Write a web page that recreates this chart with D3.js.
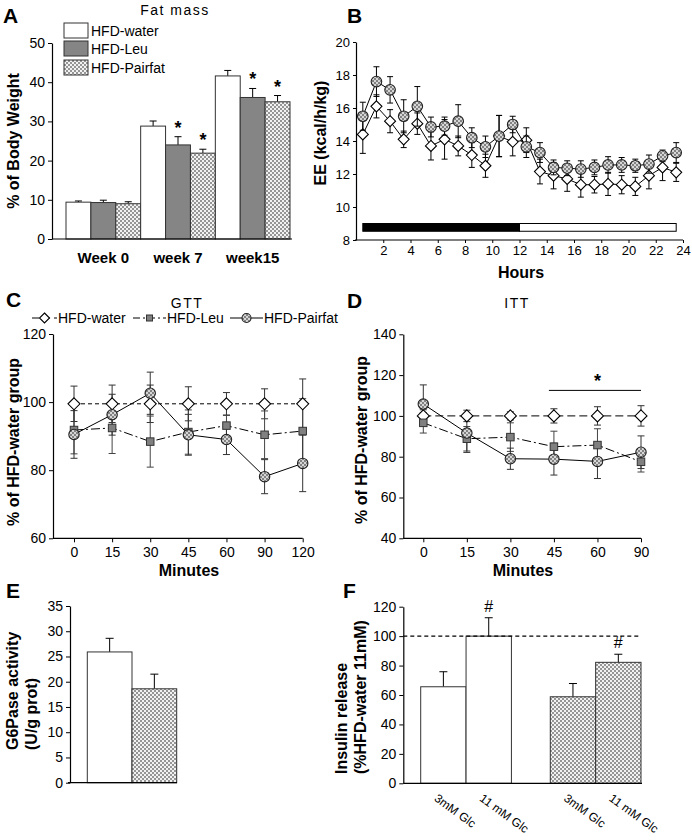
<!DOCTYPE html>
<html><head><meta charset="utf-8">
<script src="https://cdn.jsdelivr.net/npm/d3@7"></script>
<style>
body{margin:0;background:#fff}
svg{display:block}
text{font-family:"Liberation Sans",Arial,sans-serif;fill:#000}
</style>
</head><body>
<svg id="fig" width="692" height="840"></svg>
<script>
// ---------------- DATA ----------------
// Panel A: fat mass
const fatWeeks = ["Week 0", "week 7", "week15"];
const fatSeries = ["HFD-water", "HFD-Leu", "HFD-Pairfat"];
const fatWater = [9.4, 28.8, 41.6];
const fatWaterErr = [0.3, 1.3, 1.4];
const fatLeu = [9.3, 24.0, 36.1];
const fatLeuErr = [0.6, 2.1, 2.3];
const fatPair = [9.0, 21.9, 35.0];
const fatPairErr = [0.5, 1.0, 1.6];
const fatStars = [[1, 1], [1, 2], [2, 1], [2, 2]]; // [week index, series index]
const fatTicks = [0, 10, 20, 30, 40, 50];

// Panel B: energy expenditure
const eeHours = [0.5,1.5,2.5,3.5,4.5,5.5,6.5,7.5,8.5,9.5,10.5,11.5,12.5,13.5,14.5,15.5,16.5,17.5,18.5,19.5,20.5,21.5,22.5,23.5];
const eeCircle = [15.5,17.6,17.1,15.5,16.1,14.85,14.9,15.2,14.2,13.65,14.3,15.0,13.65,13.3,12.4,12.35,12.3,12.4,12.55,12.55,12.5,12.6,13.1,13.3];
const eeCircleErr = [0.85,0.9,0.8,1.0,1.2,0.6,0.55,1.0,0.6,0.65,1.25,0.5,0.65,0.6,0.45,0.45,0.5,0.45,0.5,0.45,0.4,0.55,0.35,0.6];
const eeDiamond = [14.4,16.1,15.2,14.1,15.05,13.7,14.1,13.7,13.15,12.5,14.3,13.95,14.05,12.15,11.9,11.7,11.35,11.35,11.4,11.35,11.25,11.9,12.4,12.1];
const eeDiamondErr = [1.15,0.7,0.7,0.5,0.65,0.85,1.2,0.6,0.75,0.7,1.25,0.85,0.75,0.75,0.8,0.75,0.75,0.5,0.7,0.55,0.55,0.8,0.8,0.55];
const eeYTicks = [8, 10, 12, 14, 16, 18, 20];
const eeXTicks = [2,4,6,8,10,12,14,16,18,20,22,24];
const eePhases = [[0.5, 12, "dark"], [12, 23.5, "light"]];

// Panel C: GTT
const gttMinutes = ["0", "15", "30", "45", "60", "90", "120"];
const gttWater = [99.5, 99.5, 99.5, 99.5, 99.5, 99.5, 99.5];
const gttWaterErr = [5.2, 5.5, 5.5, 5.0, 3.3, 4.4, 7.3];
const gttLeu = [91.8, 92.4, 88.4, 91.2, 93.1, 90.4, 91.5];
const gttLeuErr = [7.0, 7.5, 7.5, 6.5, 3.0, 7.0, 9.5];
const gttPair = [90.5, 96.3, 102.6, 90.4, 89.0, 78.1, 82.0];
const gttPairErr = [7.0, 6.0, 6.2, 6.0, 4.4, 5.0, 8.3];
const gttTicks = [60, 80, 100, 120];

// Panel D: ITT
const ittMinutes = ["0", "15", "30", "45", "60", "90"];
const ittWater = [100, 100, 100, 100, 100, 100];
const ittWaterErr = [3.0, 2.8, 2.0, 3.5, 4.5, 5.0];
const ittLeu = [96.6, 88.8, 89.6, 84.9, 85.7, 77.5];
const ittLeuErr = [5.0, 6.0, 7.0, 7.6, 8.0, 5.0];
const ittPair = [105.8, 91.6, 79.0, 78.8, 77.7, 82.2];
const ittPairErr = [9.4, 9.5, 5.2, 7.8, 8.4, 8.0];
const ittTicks = [40, 60, 80, 100, 120, 140];
const ittSig = ["45", "90", 112.5];

// Panel E: G6Pase
const g6Groups = ["HFD-water", "HFD-Pairfat"];
const g6Values = [25.9, 18.6];
const g6Err = [2.7, 2.9];
const g6Ticks = [0, 5, 10, 15, 20, 25, 30, 35];

// Panel F: insulin release
const insGroups = ["HFD-water", "HFD-Pairfat"];
const insConds = ["3mM Glc", "11 mM Glc"];
const insValues = [[65.6, 100.0], [58.8, 82.2]];
const insErr = [[10.2, 12.5], [9.0, 5.5]];
const insMarks = [[false, true], [false, true]];
const insTicks = [0, 20, 40, 60, 80, 100, 120];
const insRef = 100;

// ---------------- DRAWING ----------------
const svg = d3.select("#fig");
svg.append("rect").attr("width", 692).attr("height", 840).attr("fill", "#fff");

const defs = svg.append("defs");
function checker(id, light, dark) {
  const p = defs.append("pattern").attr("id", id).attr("width", 4).attr("height", 4)
    .attr("patternUnits", "userSpaceOnUse");
  p.append("rect").attr("width", 4).attr("height", 4).attr("fill", light);
  p.append("rect").attr("width", 2).attr("height", 2).attr("fill", dark);
  p.append("rect").attr("x", 2).attr("y", 2).attr("width", 2).attr("height", 2).attr("fill", dark);
}
checker("chk", "#f2f2f2", "#959595");
checker("chk2", "#d6d6d6", "#828282");

const FONT = "'Liberation Sans', Arial, sans-serif";

function styleAxis(g, size) {
  g.selectAll("path.domain").attr("stroke", "#000").attr("stroke-width", 1.2);
  g.selectAll(".tick line").attr("stroke", "#000");
  g.selectAll(".tick text").attr("font-family", FONT).attr("font-size", size || 13).attr("fill", "#000");
}
function hline(x1, x2, y, extra) {
  const l = svg.append("line").attr("x1", x1).attr("x2", x2).attr("y1", y).attr("y2", y)
    .attr("stroke", "#000").attr("stroke-width", 1.2);
  if (extra) l.attr("stroke-dasharray", extra);
  return l;
}
function label(txt, x, y, opts) {
  opts = opts || {};
  const t = svg.append("text").attr("x", x).attr("y", y).text(txt)
    .attr("font-size", opts.size || 13)
    .attr("font-weight", opts.bold ? "bold" : "normal")
    .attr("text-anchor", opts.anchor || "start");
  if (opts.ls) t.attr("letter-spacing", opts.ls);
  if (opts.rot !== undefined) t.attr("transform", `rotate(${opts.rot},${x},${y})`);
  return t;
}
function errBar(g, x, y1, y2, cap, color) {
  g.append("line").attr("x1", x).attr("x2", x).attr("y1", y1).attr("y2", y2)
    .attr("stroke", color || "#000").attr("stroke-width", 1);
  g.append("line").attr("x1", x - cap / 2).attr("x2", x + cap / 2).attr("y1", y1).attr("y2", y1)
    .attr("stroke", color || "#000").attr("stroke-width", 1);
}
function errBarBoth(g, x, yTop, yBot, cap, color) {
  g.append("line").attr("x1", x).attr("x2", x).attr("y1", yTop).attr("y2", yBot)
    .attr("stroke", color || "#000").attr("stroke-width", 1);
  [yTop, yBot].forEach(yy => g.append("line").attr("x1", x - cap / 2).attr("x2", x + cap / 2)
    .attr("y1", yy).attr("y2", yy).attr("stroke", color || "#000").attr("stroke-width", 1));
}
function marker(g, type, x, y, s) {
  if (type === "diamond") {
    g.append("path").attr("d", `M${x},${y - s}L${x + s},${y}L${x},${y + s}L${x - s},${y}Z`)
      .attr("fill", "#fff").attr("stroke", "#000").attr("stroke-width", 1.1);
  } else if (type === "square") {
    g.append("rect").attr("x", x - s * 0.75).attr("y", y - s * 0.75).attr("width", s * 1.5).attr("height", s * 1.5)
      .attr("fill", "#808080").attr("stroke", "#333").attr("stroke-width", 1);
  } else {
    g.append("circle").attr("cx", x).attr("cy", y).attr("r", s)
      .attr("fill", "url(#chk2)").attr("stroke", "#222").attr("stroke-width", 1.1);
  }
}
const panelLetter = (t, x, y) => label(t, x, y, { size: 21, bold: true });

// ===== Panel A =====
{
  const y = d3.scaleLinear().domain([0, 50]).range([239, 43]);
  const x0 = d3.scaleBand().domain(fatWeeks).range([66, 290]).padding(0);
  const x1 = d3.scaleBand().domain(fatSeries).range([0, x0.bandwidth()]).padding(0);
  const vals = [fatWater, fatLeu, fatPair];
  const errs = [fatWaterErr, fatLeuErr, fatPairErr];
  const fills = ["#fff", "#858585", "url(#chk)"];
  const g = svg.append("g");
  fatWeeks.forEach((w, i) => {
    fatSeries.forEach((s, j) => {
      const bx = x0(w) + x1(s), bw = x1.bandwidth();
      const v = vals[j][i], e = errs[j][i];
      errBar(g, bx + bw / 2, y(v + e), y(v), 7);
      g.append("rect").attr("x", bx).attr("y", y(v)).attr("width", bw).attr("height", y(0) - y(v))
        .attr("fill", fills[j]).attr("stroke", "#333").attr("stroke-width", 1);
    });
  });
  fatStars.forEach(([i, j]) => {
    const s = fatSeries[j];
    const cx = x0(fatWeeks[i]) + x1(s) + x1.bandwidth() / 2;
    label("*", cx, y(vals[j][i] + errs[j][i]) - 3, { size: 18, bold: true, anchor: "middle" });
  });
  const ax = svg.append("g").attr("transform", "translate(52,0)")
    .call(d3.axisLeft(y).tickValues(fatTicks).tickSize(4).tickSizeOuter(0).tickPadding(3));
  styleAxis(ax, 14);
  hline(52, 292, y(0));
  fatWeeks.forEach(w => label(w, x0(w) + x0.bandwidth() / 2, 263, { size: 15, bold: true, anchor: "middle" }));
  label("% of Body Weight", 19, 141, { size: 16, bold: true, anchor: "middle", rot: -90 });
  label("Fat mass", 175, 15, { size: 14, anchor: "middle", ls: 1.5 });
  // legend
  fatSeries.forEach((s, j) => {
    const ly = [23, 41, 60][j];
    svg.append("rect").attr("x", 64).attr("y", ly).attr("width", 24).attr("height", 15)
      .attr("fill", fills[j]).attr("stroke", "#333");
    label(s, 91, ly + 13, { size: 14 });
  });
  panelLetter("A", 3, 23);
}

// ===== Panel B =====
{
  const x = d3.scaleLinear().domain([0, 24]).range([356, 683]);
  const y = d3.scaleLinear().domain([8, 20]).range([240, 42]);
  const g = svg.append("g");
  // light/dark bar
  eePhases.forEach(([a, b, k]) => {
    g.append("rect").attr("x", x(a)).attr("y", y(9.0)).attr("width", x(b) - x(a)).attr("height", y(8.53) - y(9.0))
      .attr("fill", k === "dark" ? "#000" : "#fff").attr("stroke", "#000").attr("stroke-width", 1);
  });
  const series = [
    { v: eeDiamond, e: eeDiamondErr, type: "diamond", s: 5.5 },
    { v: eeCircle, e: eeCircleErr, type: "circle", s: 5.3 }
  ];
  series.forEach(sr => {
    eeHours.forEach((h, i) => errBarBoth(g, x(h), y(sr.v[i] + sr.e[i]), y(sr.v[i] - sr.e[i]), 6));
    g.append("path").datum(eeHours.map((h, i) => [x(h), y(sr.v[i])]))
      .attr("d", d3.line()).attr("fill", "none").attr("stroke", "#000").attr("stroke-width", 1);
    eeHours.forEach((h, i) => marker(g, sr.type, x(h), y(sr.v[i]), sr.s));
  });
  const ay = svg.append("g").attr("transform", "translate(356,0)")
    .call(d3.axisLeft(y).tickValues(eeYTicks).tickSize(3).tickSizeOuter(0).tickPadding(3));
  styleAxis(ay, 13);
  const axx = svg.append("g").attr("transform", `translate(0,${y(8)})`)
    .call(d3.axisBottom(x).tickValues(eeXTicks).tickSize(3).tickSizeOuter(0).tickPadding(3));
  styleAxis(axx, 13);
  axx.select("path.domain").remove();
  hline(355, 683, y(8));
  label("Hours", 521, 278, { size: 16, bold: true, anchor: "middle" });
  label("EE (kcal/h/kg)", 326, 133, { size: 16, bold: true, anchor: "middle", rot: -90 });
  panelLetter("B", 347, 23);
}

// ===== Panels C and D (line charts) =====
function lineChart(cfg) {
  const x = d3.scalePoint().domain(cfg.cats).range(cfg.xr);
  const y = d3.scaleLinear().domain(cfg.yd).range(cfg.yr);
  const g = svg.append("g");
  const series = [
    { v: cfg.water, e: cfg.waterErr, type: "diamond", s: 6, dash: cfg.waterDash, ec: "#333" },
    { v: cfg.leu, e: cfg.leuErr, type: "square", s: 5, dash: cfg.leuDash, ec: "#444" },
    { v: cfg.pair, e: cfg.pairErr, type: "circle", s: 5.2, dash: null, ec: "#333" }
  ];
  series.forEach(sr => {
    cfg.cats.forEach((c, i) => errBarBoth(g, x(c), y(sr.v[i] + sr.e[i]), y(sr.v[i] - sr.e[i]), 7, sr.ec));
  });
  series.forEach(sr => {
    const p = g.append("path").datum(cfg.cats.map((c, i) => [x(c), y(sr.v[i])]))
      .attr("d", d3.line()).attr("fill", "none").attr("stroke", "#000").attr("stroke-width", 1);
    if (sr.dash) p.attr("stroke-dasharray", sr.dash);
  });
  series.forEach(sr => cfg.cats.forEach((c, i) => marker(g, sr.type, x(c), y(sr.v[i]), sr.s)));
  const ay = svg.append("g").attr("transform", `translate(${cfg.ax},0)`)
    .call(d3.axisLeft(y).tickValues(cfg.ticks).tickSize(4).tickSizeOuter(0).tickPadding(3));
  styleAxis(ay, 14);
  const axx = svg.append("g").attr("transform", `translate(0,${cfg.yr[0]})`)
    .call(d3.axisBottom(x).tickSize(4).tickSizeOuter(0).tickPadding(5));
  styleAxis(axx, 14);
  axx.select("path.domain").remove();
  hline(cfg.ax, cfg.xr[1], cfg.yr[0]);
  return { x, y };
}

{
  lineChart({
    cats: gttMinutes, xr: [74, 302.7], yd: [60, 120], yr: [538.3, 334], ax: 53, ticks: gttTicks,
    water: gttWater, waterErr: gttWaterErr, leu: gttLeu, leuErr: gttLeuErr, pair: gttPair, pairErr: gttPairErr,
    waterDash: "4,3", leuDash: "9,3,2,3"
  });
  label("Minutes", 189, 576, { size: 16, bold: true, anchor: "middle" });
  label("% of HFD-water group", 19, 442, { size: 16, bold: true, anchor: "middle", rot: -90 });
  label("GTT", 187, 308, { size: 14, anchor: "middle", ls: 1.5 });
  // legend
  const lg = svg.append("g");
  const ly = 318;
  const items = [
    { x1: 32, x2: 57, type: "diamond", dash: "7,4", tx: 58, name: fatSeries[0], s: 5 },
    { x1: 133, x2: 166, type: "square", dash: "7,3,2,3", tx: 167, name: fatSeries[1], s: 4 },
    { x1: 230, x2: 263, type: "circle", dash: null, tx: 264, name: fatSeries[2], s: 4.5 }
  ];
  items.forEach(it => {
    const l = lg.append("line").attr("x1", it.x1).attr("x2", it.x2).attr("y1", ly).attr("y2", ly)
      .attr("stroke", "#000").attr("stroke-width", 1);
    if (it.dash) l.attr("stroke-dasharray", it.dash);
    marker(lg, it.type, (it.x1 + it.x2) / 2, ly, it.s);
    label(it.name, it.tx, ly + 5, { size: 14 });
  });
  panelLetter("C", 6, 307);
}

{
  const sc = lineChart({
    cats: ittMinutes, xr: [423.3, 641], yd: [40, 140], yr: [538.3, 334.3], ax: 403.3, ticks: ittTicks,
    water: ittWater, waterErr: ittWaterErr, leu: ittLeu, leuErr: ittLeuErr, pair: ittPair, pairErr: ittPairErr,
    waterDash: "8,4", leuDash: "9,3,2,3"
  });
  hline(sc.x(ittSig[0]) - 5, sc.x(ittSig[1]), sc.y(ittSig[2])).attr("stroke-width", 1);
  label("*", (sc.x(ittSig[0]) + sc.x(ittSig[1])) / 2, sc.y(ittSig[2]) - 3, { size: 18, bold: true, anchor: "middle" });
  label("Minutes", 523, 576, { size: 16, bold: true, anchor: "middle" });
  label("% of HFD-water group", 367, 440, { size: 16, bold: true, anchor: "middle", rot: -90 });
  label("ITT", 517, 308, { size: 14, anchor: "middle", ls: 1.5 });
  panelLetter("D", 347, 308);
}

// ===== Panel E =====
{
  const y = d3.scaleLinear().domain([0, 35]).range([782.7, 606]);
  const x = d3.scaleBand().domain(g6Groups).range([87.3, 176.7]).padding(0);
  const g = svg.append("g");
  const fills = ["#fff", "url(#chk)"];
  g6Groups.forEach((k, i) => {
    errBar(g, x(k) + x.bandwidth() / 2, y(g6Values[i] + g6Err[i]), y(g6Values[i]), 8);
    g.append("rect").attr("x", x(k)).attr("y", y(g6Values[i])).attr("width", x.bandwidth())
      .attr("height", y(0) - y(g6Values[i])).attr("fill", fills[i]).attr("stroke", "#333");
  });
  const ay = svg.append("g").attr("transform", "translate(70,0)")
    .call(d3.axisLeft(y).tickValues(g6Ticks).tickSize(4).tickSizeOuter(0).tickPadding(3));
  styleAxis(ay, 14);
  hline(68, 177, y(0));
  label("G6Pase activity", 18, 750, { size: 16, bold: true, rot: -90 });
  label("(U/g prot)", 37, 750, { size: 16, bold: true, rot: -90 });
  panelLetter("E", 6, 598);
}

// ===== Panel F =====
{
  const y = d3.scaleLinear().domain([0, 120]).range([783.3, 606.7]);
  const xg = d3.scaleBand().domain(insGroups).range([420.7, 641]).paddingInner(0.3).paddingOuter(0);
  const xc = d3.scaleBand().domain(insConds).range([0, xg.bandwidth()]).padding(0);
  const g = svg.append("g");
  const fills = ["#fff", "url(#chk)"];
  // reference line
  hline(403.3, 641, y(insRef), "4,3").attr("stroke-width", 1.1);
  insGroups.forEach((grp, i) => {
    insConds.forEach((c, j) => {
      const bx = xg(grp) + xc(c), bw = xc.bandwidth(), v = insValues[i][j], e = insErr[i][j];
      errBar(g, bx + bw / 2, y(v + e), y(v), 8);
      g.append("rect").attr("x", bx).attr("y", y(v)).attr("width", bw).attr("height", y(0) - y(v))
        .attr("fill", fills[i]).attr("stroke", "#333");
      if (insMarks[i][j]) label("#", bx + bw / 2, y(v + e) - 6, { size: 16, anchor: "middle" });
      label(c, bx + bw / 2 - 10, 800, { size: 12, rot: 36 });
    });
  });
  const ay = svg.append("g").attr("transform", "translate(403.3,0)")
    .call(d3.axisLeft(y).tickValues(insTicks).tickSize(4).tickSizeOuter(0).tickPadding(3));
  styleAxis(ay, 14);
  hline(403.3, 642, y(0));
  label("Insulin release", 347, 774, { size: 16, bold: true, rot: -90 });
  label("(%HFD-water 11mM)", 366, 774, { size: 16, bold: true, rot: -90 });
  panelLetter("F", 343, 598);
}
</script>
</body></html>
